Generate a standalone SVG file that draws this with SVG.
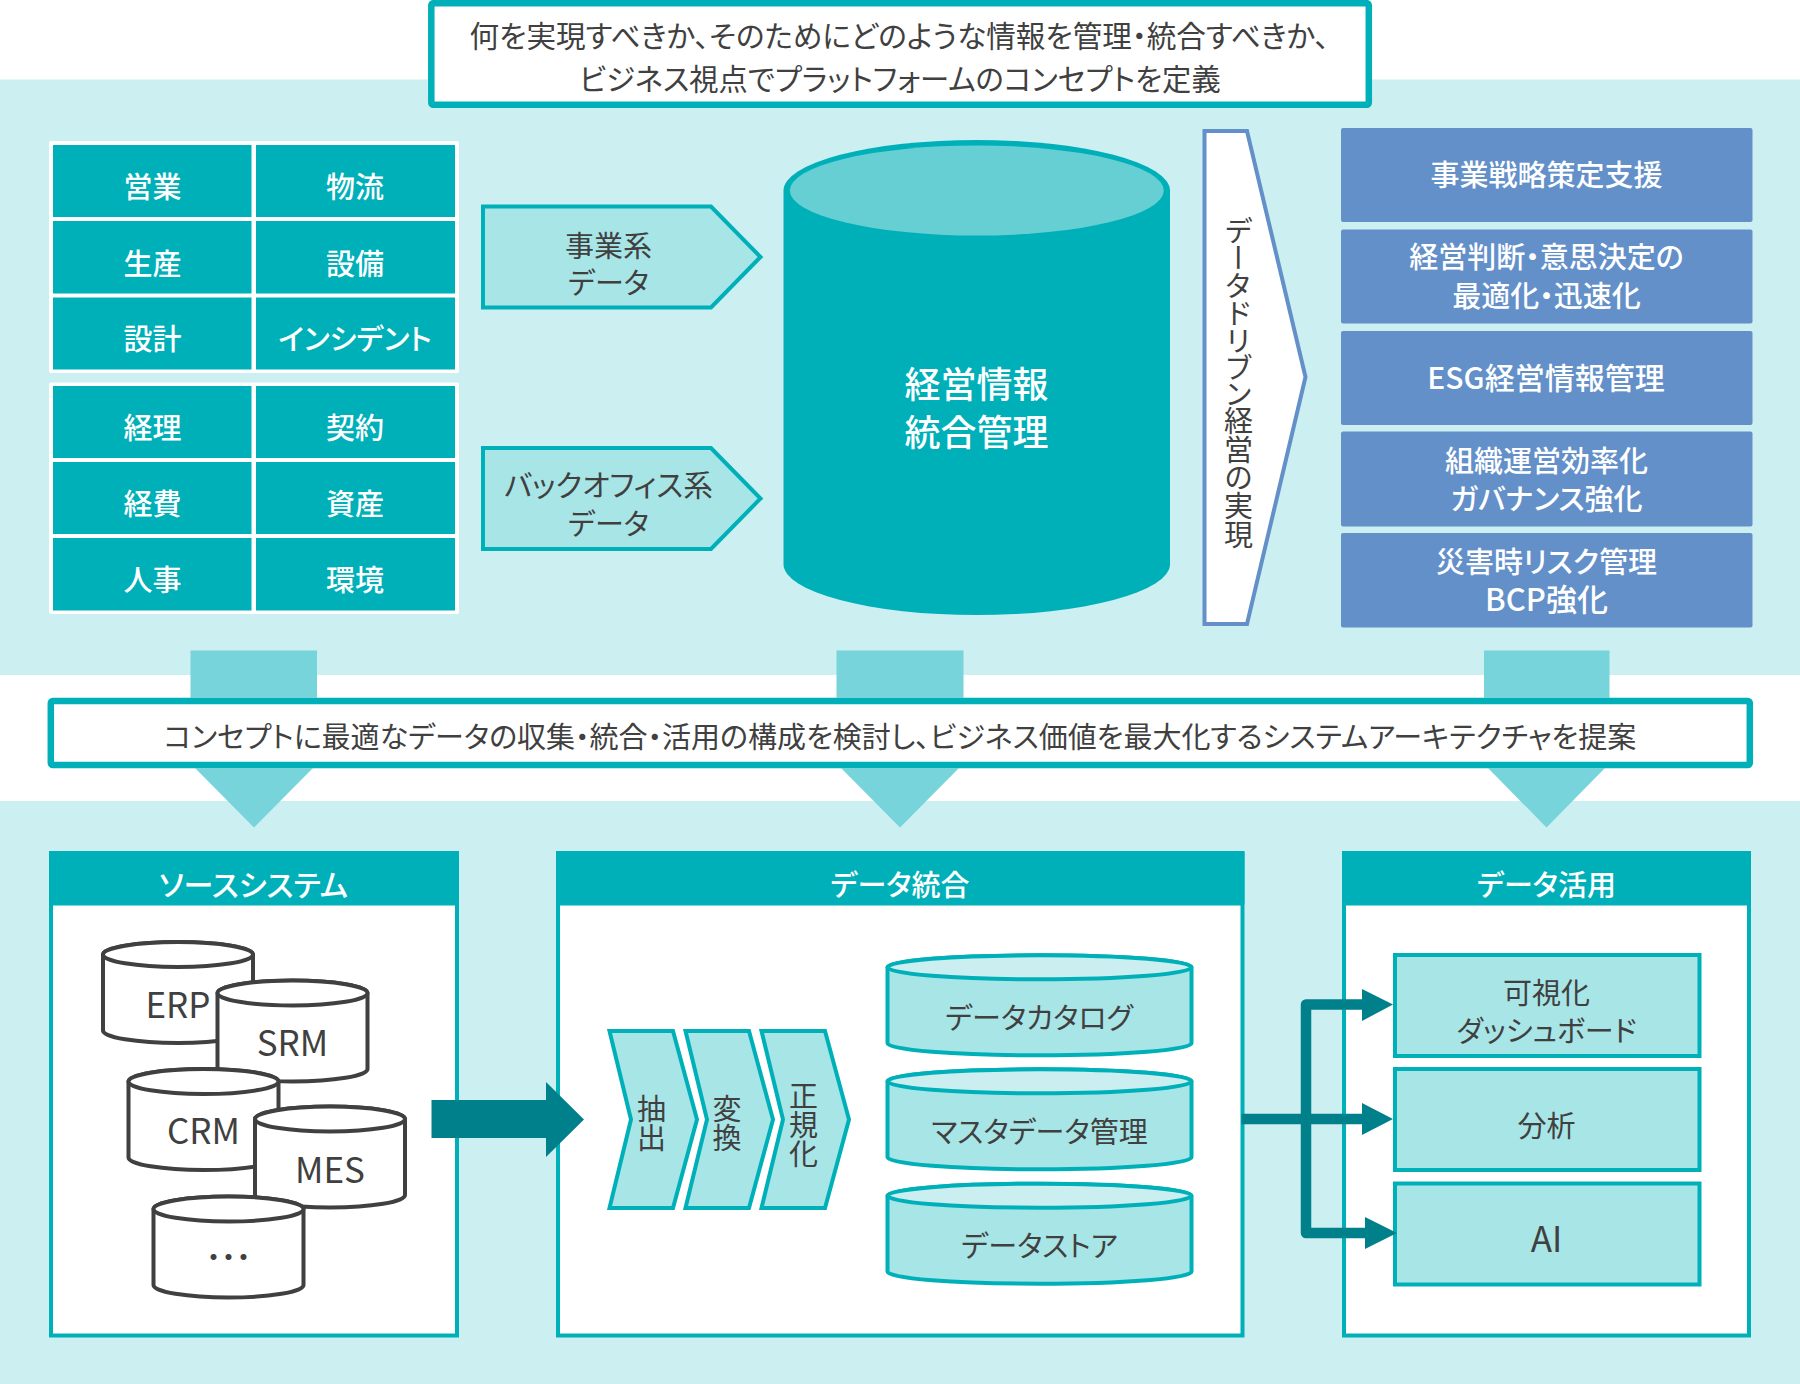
<svg xmlns="http://www.w3.org/2000/svg" width="1800" height="1384" viewBox="0 0 1800 1384">
<style>
text{font-family:"Noto Sans CJK JP","Noto Sans",sans-serif;text-anchor:middle;dominant-baseline:central;font-feature-settings:"palt";fill:#404040}
.w{fill:#fff;font-weight:500}
.s29{font-size:29px}.s30{font-size:30px}.lat{font-size:35px}
.v{writing-mode:vertical-rl;font-feature-settings:"vpal"}
.cell{fill:#00B0B9}
.blue{fill:#6390C9}
.lt{fill:#A8E5E6;stroke:#00B0B9;stroke-width:4}
.panel{fill:#fff;stroke:#00B0B9;stroke-width:4}
.head{fill:#00B0B9}
.dk{fill:#fff;stroke:#404040;stroke-width:4}
.tc{fill:#A8E5E6;stroke:#00B0B9;stroke-width:4}
.tt{fill:#CBEEF0;stroke:#00B0B9;stroke-width:4}
.dn{fill:#76D4DA}
.ar{fill:#00808A}
.bar{fill:#fff;stroke:#00B0B9;stroke-width:6.5}
</style>
<defs>
<path id="dkb" d="M-75,0V76A75,12.5 0 0 0 75,76V0A75,12.5 0 0 0 -75,0Z"/>
<ellipse id="dkt" cx="0" cy="0" rx="75" ry="12.5"/>
<path id="tcb" d="M-152,0V76A152,12 0 0 0 152,76V0A152,12 0 0 0 -152,0Z"/>
<ellipse id="tct" cx="0" cy="0" rx="152" ry="12"/>
<polygon id="chev" points="609.5,1031 673,1031 697,1119.5 673,1208 609.5,1208 631,1119.5"/>
</defs>

<g id="backgrounds">
<rect x="0" y="79.5" width="1800" height="595.5" fill="#CCEFF1"/>
<rect x="0" y="801" width="1800" height="583" fill="#CCEFF1"/>
</g>

<g id="concept-box">
<rect class="bar" x="431.3" y="3.2" width="937.5" height="101.5" rx="2"/>
<text font-size="29.6" x="899.5" y="34">何を実現すべきか、そのためにどのような情報を管理・統合すべきか、</text>
<text font-size="29.3" x="900" y="77">ビジネス視点でプラットフォームのコンセプトを定義</text>
</g>

<g id="grid-business">
<rect x="49" y="141" width="410" height="232" rx="2" fill="#fff"/>
<rect class="cell" x="53" y="145" width="198.5" height="72"/><rect class="cell" x="256" y="145" width="199" height="72"/>
<rect class="cell" x="53" y="221" width="198.5" height="72.5"/><rect class="cell" x="256" y="221" width="199" height="72.5"/>
<rect class="cell" x="53" y="297.5" width="198.5" height="72"/><rect class="cell" x="256" y="297.5" width="199" height="72"/>
<text class="w s29" x="152.5" y="185">営業</text><text class="w s29" x="355" y="185">物流</text>
<text class="w s29" x="152.5" y="261.5">生産</text><text class="w s29" x="355" y="261.5">設備</text>
<text class="w s29" x="152.5" y="337">設計</text><text class="w s29" x="355" y="337">インシデント</text>
</g>
<g id="grid-backoffice">
<rect x="49" y="382.5" width="410" height="231.5" rx="2" fill="#fff"/>
<rect class="cell" x="53" y="386" width="198.5" height="72"/><rect class="cell" x="256" y="386" width="199" height="72"/>
<rect class="cell" x="53" y="462" width="198.5" height="72"/><rect class="cell" x="256" y="462" width="199" height="72"/>
<rect class="cell" x="53" y="538" width="198.5" height="72.5"/><rect class="cell" x="256" y="538" width="199" height="72.5"/>
<text class="w s29" x="152.5" y="426">経理</text><text class="w s29" x="355" y="426">契約</text>
<text class="w s29" x="152.5" y="502">経費</text><text class="w s29" x="355" y="502">資産</text>
<text class="w s29" x="152.5" y="578">人事</text><text class="w s29" x="355" y="578">環境</text>
</g>

<g id="business-data">
<polygon class="lt" points="483,206.5 711,206.5 760.5,257 711,307.5 483,307.5"/>
<text class="s29" x="608.5" y="243.5">事業系</text><text class="s29" x="608.5" y="281">データ</text>
</g>
<g id="backoffice-data">
<polygon class="lt" points="483,448 711,448 760.5,498.5 711,549 483,549"/>
<text font-size="29.7" x="608.5" y="483">バックオフィス系</text><text class="s29" x="608.5" y="521.5">データ</text>
</g>

<g id="main-cylinder">
<path class="cell" d="M783.5,190.5A193,50.5 0 0 1 1170,190.5V564A193,51 0 0 1 783.5,564Z"/>
<ellipse cx="976.8" cy="190.5" rx="187" ry="45" fill="#66CFD3"/>
<text class="w" font-size="36" x="976.5" y="382">経営情報</text>
<text class="w" font-size="36" x="976.5" y="430">統合管理</text>
</g>

<g id="data-driven">
<polygon points="1204.5,131 1247,131 1305.5,377 1247,624 1204.5,624" fill="#fff" stroke="#6390C9" stroke-width="4"/>
<text class="s29 v" x="1238.5" y="383">データドリブン経営の実現</text>
</g>

<g id="out1"><rect class="blue" x="1341" y="128" width="411.5" height="94" rx="2"/><text class="w s29" x="1546.5" y="172.5">事業戦略策定支援</text></g>
<g id="out2"><rect class="blue" x="1341" y="229.5" width="411.5" height="94" rx="2"/><text class="w s29" x="1546.5" y="255">経営判断・意思決定の</text><text class="w s29" x="1546.5" y="293.5">最適化・迅速化</text></g>
<g id="out3"><rect class="blue" x="1341" y="331" width="411.5" height="94" rx="2"/><text class="w s30" x="1546" y="375.5">ESG経営情報管理</text></g>
<g id="out4"><rect class="blue" x="1341" y="431.5" width="411.5" height="95" rx="2"/><text class="w s29" x="1546.5" y="458.5">組織運営効率化</text><text class="w s29" x="1546.5" y="496.5">ガバナンス強化</text></g>
<g id="out5"><rect class="blue" x="1341" y="533" width="411.5" height="94.5" rx="2"/><text class="w s29" x="1546.5" y="560">災害時リスク管理</text><text class="w" font-size="31" x="1546.5" y="597.5">BCP強化</text></g>

<g id="proposal-bar">
<rect class="bar" x="50.8" y="701" width="1699" height="64" rx="2"/>
<text class="s29" x="900" y="734.5">コンセプトに最適なデータの収集・統合・活用の構成を検討し、ビジネス価値を最大化するシステムアーキテクチャを提案</text>
</g>

<g id="panel-source">
<rect class="panel" x="51" y="853" width="406" height="482.5"/>
<rect class="head" x="49" y="851" width="410" height="54.5" rx="2"/>
<text class="w s30" x="253.5" y="883">ソースシステム</text>
<g><use href="#dkb" class="dk" x="178" y="954.5"/><use href="#dkt" class="dk" x="178" y="954.5"/><text class="lat" x="178" y="1002.5">ERP</text></g>
<g><use href="#dkb" class="dk" x="292.5" y="993"/><use href="#dkt" class="dk" x="292.5" y="993"/><text class="lat" x="292.5" y="1040.5">SRM</text></g>
<g><use href="#dkb" class="dk" x="203.5" y="1081.5"/><use href="#dkt" class="dk" x="203.5" y="1081.5"/><text class="lat" x="203.5" y="1128.5">CRM</text></g>
<g><use href="#dkb" class="dk" x="330" y="1119"/><use href="#dkt" class="dk" x="330" y="1119"/><text class="lat" x="330" y="1167">MES</text></g>
<g><use href="#dkb" class="dk" x="228.5" y="1209"/><use href="#dkt" class="dk" x="228.5" y="1209"/><text font-size="45" x="228.5" y="1255">…</text></g>
</g>

<g id="panel-integration">
<rect class="panel" x="558" y="853" width="684.5" height="482.5"/>
<rect class="head" x="556" y="851" width="688.5" height="54.5" rx="2"/>
<text class="w s29" x="900" y="883">データ統合</text>
<use href="#chev" class="lt"/><use href="#chev" class="lt" x="76"/><use href="#chev" class="lt" x="152"/>
<text class="s29 v" x="651.5" y="1123.5">抽出</text>
<text class="s29 v" x="727" y="1123.5">変換</text>
<text class="s29 v" x="803.5" y="1125">正規化</text>
<g><use href="#tcb" class="tc" x="1039.5" y="967.3"/><use href="#tct" class="tt" x="1039.5" y="967.3"/><text class="s29" x="1039" y="1015.5">データカタログ</text></g>
<g><use href="#tcb" class="tc" x="1039.5" y="1081.3"/><use href="#tct" class="tt" x="1039.5" y="1081.3"/><text class="s29" x="1039.5" y="1129.5">マスタデータ管理</text></g>
<g><use href="#tcb" class="tc" x="1039.5" y="1195.7"/><use href="#tct" class="tt" x="1039.5" y="1195.7"/><text class="s29" x="1039.5" y="1243.5">データストア</text></g>
</g>

<g id="panel-usage">
<rect class="panel" x="1344" y="853" width="405" height="482.5"/>
<rect class="head" x="1342" y="851" width="409" height="54.5" rx="2"/>
<text class="w s29" x="1546.5" y="883">データ活用</text>
<g><rect class="lt" x="1395" y="955" width="304.5" height="101"/><text class="s29" x="1546.5" y="991">可視化</text><text class="s29" x="1546.5" y="1028.5">ダッシュボード</text></g>
<g><rect class="lt" x="1395" y="1069" width="304.5" height="101"/><text class="s29" x="1546.5" y="1123.5">分析</text></g>
<g><rect class="lt" x="1395" y="1183.5" width="304.5" height="101"/><text class="lat" x="1546.5" y="1236">AI</text></g>
</g>

<g id="connectors">
<rect class="dn" x="190.5" y="650.5" width="126.5" height="47.5"/>
<rect class="dn" x="836.5" y="650.5" width="127" height="47.5"/>
<rect class="dn" x="1484" y="650.5" width="125.5" height="47.5"/>
<polygon class="dn" points="195,768 313,768 254,827.5"/>
<polygon class="dn" points="841,768 959,768 900,827.5"/>
<polygon class="dn" points="1488,768 1605,768 1546.5,827.5"/>
<polygon class="ar" points="431.5,1100 546,1100 546,1082 584,1119.5 546,1157 546,1138 431.5,1138"/>
<path d="M1241.5,1119H1364M1364,1004.5H1306V1233H1367" fill="none" stroke="#00808A" stroke-width="10.5" stroke-linejoin="round"/>
<polygon class="ar" points="1362,989 1393,1004.5 1362,1021"/>
<polygon class="ar" points="1362,1103 1393,1119 1362,1135"/>
<polygon class="ar" points="1365,1217 1397,1233 1365,1249"/>
</g>
</svg>
